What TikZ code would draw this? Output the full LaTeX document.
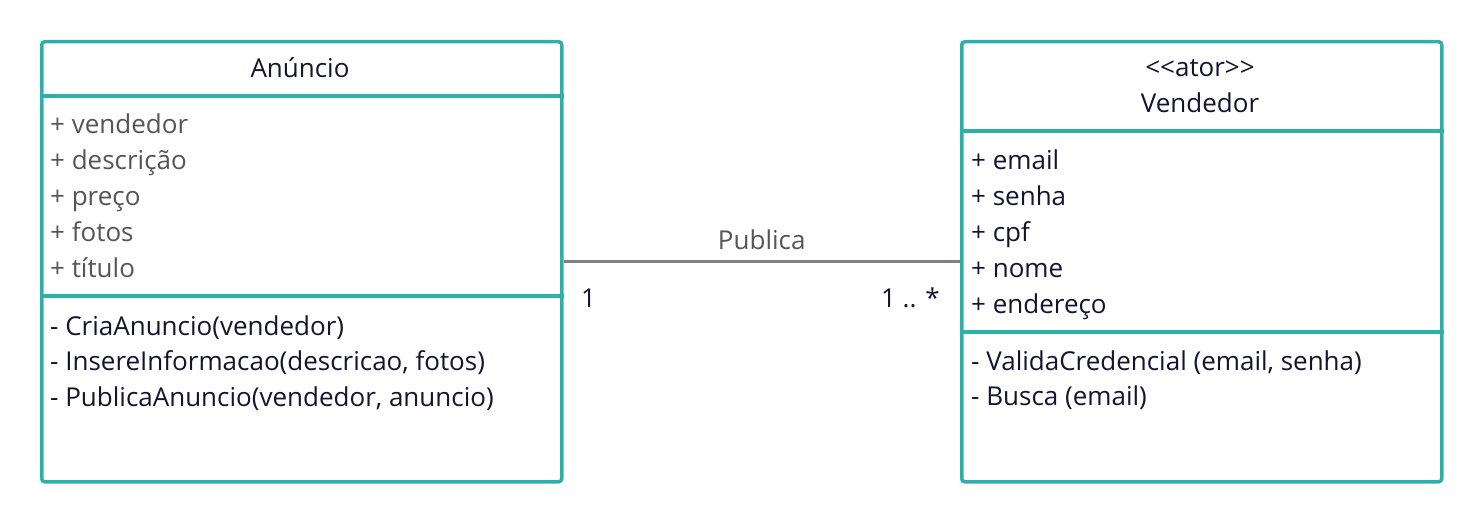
\documentclass[tikz,border=0pt]{standalone}
\usepackage{fontspec}
\setmainfont{Open Sans}
\usetikzlibrary{positioning}
\definecolor{classline}{HTML}{2BB0AA}
\definecolor{ink}{HTML}{141430}
\definecolor{soft}{HTML}{555555}
\definecolor{wire}{HTML}{808080}

\begin{document}
\begin{tikzpicture}[x=1pt,y=-1pt,
    every node/.style={font=\fontsize{26}{30}\selectfont,text=ink,inner sep=0pt},
    cls/.style={draw=classline,line width=3.5pt,rounded corners=3pt,anchor=north west,minimum height=440pt},
    row/.style={anchor=base west}]
    \useasboundingbox (0,0) rectangle (1480,521);
    % classes
    \node[cls,minimum width=520pt] (an) at (40,40) {};
    \node[cls,minimum width=480pt] (ve) at (960,40) {};
    \draw[classline,line width=3.5pt] (an.west |- 0,96) -- (an.east |- 0,96);
    \draw[classline,line width=3.5pt] (an.west |- 0,296) -- (an.east |- 0,296);
    \draw[classline,line width=3.5pt] (ve.west |- 0,131) -- (ve.east |- 0,131);
    \draw[classline,line width=3.5pt] (ve.west |- 0,332) -- (ve.east |- 0,332);
    \node[anchor=base] (an-t) at (300,78) {Anúncio};
    \node[anchor=base] (ve-s) at (1200,77) {{<}{<}ator{>}{>}};
    \node[anchor=base] (ve-t) at (1200,113) {Vendedor};
    \foreach \txt [count=\i] in {vendedor,descrição,preço,fotos,título}
        \node[row,text=soft] (an-a\i) at (50,{134+36*(\i-1)}) {+ \txt};
    \foreach \txt [count=\i] in {{CriaAnuncio(vendedor)},{InsereInformacao(descricao, fotos)},{PublicaAnuncio(vendedor, anuncio)}}
        \node[row] (an-m\i) at (50,{335+35.5*(\i-1)}) {- \txt};
    \foreach \txt [count=\i] in {email,senha,cpf,nome,endereço}
        \node[row] (ve-a\i) at (971,{170+35.8*(\i-1)}) {+ \txt};
    \foreach \txt [count=\i] in {{ValidaCredencial (email, senha)},{Busca (email)}}
        \node[row] (ve-m\i) at (971,{370+35.5*(\i-1)}) {- \txt};
    % association
    \draw[wire,line width=3pt] (an) -- node[above=10pt,text=soft] (pub) {Publica} (ve);
    \node[anchor=base west] (m1) at (581,308) {1};
    \node[anchor=base east] (m2) at (940,308) {1 .. *};
\end{tikzpicture}
\end{document}
